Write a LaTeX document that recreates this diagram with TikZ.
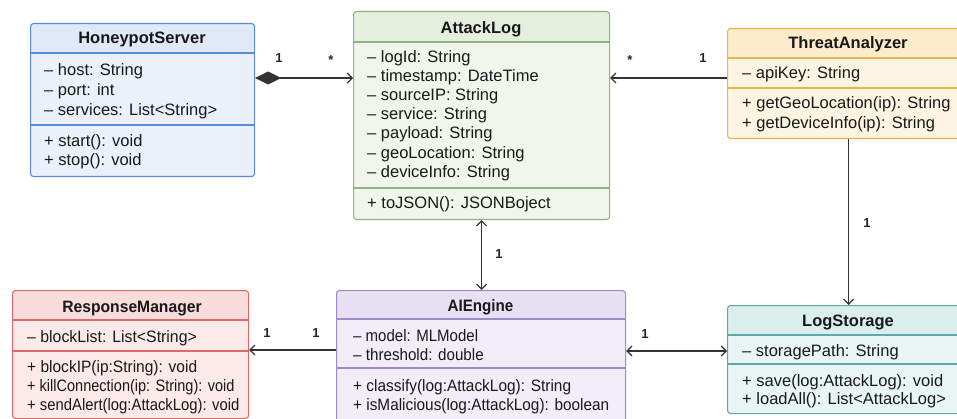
\documentclass[tikz,border=0pt]{standalone}
\usepackage{fontspec}
\usepackage{graphicx}
\setmainfont{Liberation Sans}
\usetikzlibrary{arrows.meta}
\newcommand{\sqz}[2]{\scalebox{#1}[1]{#2}}
\definecolor{hsB}{HTML}{5B8AD6}\definecolor{hsF}{HTML}{EAF1FB}\definecolor{hsT}{HTML}{DFE9F8}
\definecolor{alB}{HTML}{8FB57F}\definecolor{alF}{HTML}{F0F6EC}\definecolor{alT}{HTML}{E5EFDD}
\definecolor{taB}{HTML}{E9B449}\definecolor{taF}{HTML}{FDF5E2}\definecolor{taT}{HTML}{FBEDCC}
\definecolor{rmB}{HTML}{DC6A6A}\definecolor{rmF}{HTML}{FCE9E9}\definecolor{rmT}{HTML}{F9DCDC}
\definecolor{aiB}{HTML}{9D8BC8}\definecolor{aiF}{HTML}{F2EEF8}\definecolor{aiT}{HTML}{E8E1F3}
\definecolor{lsB}{HTML}{5FA8A6}\definecolor{lsF}{HTML}{E9F5F4}\definecolor{lsT}{HTML}{DAEEEC}
\definecolor{lineC}{HTML}{333333}
\begin{document}
\begin{tikzpicture}[x=1pt,y=-1pt,
  box/.style n args={4}{draw=#1, fill=#2, line width=1.1pt, rounded corners=3pt, inner sep=0pt, anchor=north west,
     path picture={\fill[#3] (path picture bounding box.north west) rectangle ([yshift=-#4]path picture bounding box.north east);}},
  sep/.style={draw=#1, line width=1.1pt},
  txt/.style={anchor=base west, inner sep=0pt, font=\fontsize{16.5}{19}\selectfont, text=black!90},
  ttl/.style={anchor=base, inner sep=0pt, font=\fontsize{16.5}{19}\selectfont\bfseries, text=black!90},
  mult/.style={inner sep=0pt, font=\fontsize{13}{15}\selectfont\bfseries, text=black!85},
  conn/.style={draw=lineC, line width=1.1pt},
  tip/.tip={Straight Barb[length=5pt,width=10pt,line width=1.2pt]}
]
\useasboundingbox (0,0) rectangle (957,419);
\clip (0,0) rectangle (957,419);
\fill[white] (0,0) rectangle (957,419);

% HoneypotServer
\node[box={hsB}{hsF}{hsT}{30pt}, minimum width=224pt, minimum height=153pt] (hs) at (30,23) {};
\draw[sep=hsB] (hs.west |- 0,53) -- (hs.east |- 0,53);
\draw[sep=hsB] (hs.west |- 0,125) -- (hs.east |- 0,125);
\node[ttl] (hst) at (142,44) {HoneypotServer};
\node[txt] (hs1) at (44,76) {– host: String};
\node[txt] (hs2) at (44,96) {– port: int};
\node[txt] (hs3) at (44,116) {– services: List<String>};
\node[txt] (hs4) at (44,147) {+ start(): void};
\node[txt] (hs5) at (44,166) {+ stop(): void};

% AttackLog
\node[box={alB}{alF}{alT}{31pt}, minimum width=256pt, minimum height=208pt] (al) at (353,11) {};
\draw[sep=alB] (al.west |- 0,42) -- (al.east |- 0,42);
\draw[sep=alB] (al.west |- 0,188) -- (al.east |- 0,188);
\node[ttl] (alt) at (481,34) {AttackLog};
\node[txt] (al1) at (367,63) {– logId: String};
\node[txt] (al2) at (367,82) {– timestamp: DateTime};
\node[txt] (al3) at (367,101) {– sourceIP: String};
\node[txt] (al4) at (367,120) {– service: String};
\node[txt] (al5) at (367,139) {– payload: String};
\node[txt] (al6) at (367,159) {– geoLocation: String};
\node[txt] (al7) at (367,178) {– deviceInfo: String};
\node[txt] (al8) at (367,209) {+ toJSON(): JSONBoject};

% ThreatAnalyzer
\node[box={taB}{taF}{taT}{30pt}, minimum width=242pt, minimum height=110pt] (ta) at (727,28) {};
\draw[sep=taB] (ta.west |- 0,58) -- (ta.east |- 0,58);
\draw[sep=taB] (ta.west |- 0,88) -- (ta.east |- 0,88);
\node[ttl] (tat) at (848,49) {ThreatAnalyzer};
\node[txt] (ta1) at (742,79) {– apiKey: String};
\node[txt] (ta2) at (742,109) {+ getGeoLocation(ip): String};
\node[txt] (ta3) at (742,129) {+ getDeviceInfo(ip): String};

% ResponseManager
\node[box={rmB}{rmF}{rmT}{30pt}, minimum width=236pt, minimum height=128pt] (rm) at (12,290) {};
\draw[sep=rmB] (rm.west |- 0,320) -- (rm.east |- 0,320);
\draw[sep=rmB] (rm.west |- 0,351) -- (rm.east |- 0,351);
\node[ttl] (rmt) at (132,312) {\sqz{0.95}{ResponseManager}};
\node[txt] (rm1) at (27,342) {\sqz{0.96}{– blockList: List<String>}};
\node[txt] (rm2) at (27,372) {\sqz{0.94}{+ blockIP(ip:String): void}};
\node[txt] (rm3) at (27,391) {\sqz{0.88}{+ killConnection(ip: String): void}};
\node[txt] (rm4) at (27,410) {\sqz{0.9}{+ sendAlert(log:AttackLog): void}};

% AIEngine
\node[box={aiB}{aiF}{aiT}{29pt}, minimum width=289pt, minimum height=135pt] (ai) at (336,290) {};
\draw[sep=aiB] (ai.west |- 0,319) -- (ai.east |- 0,319);
\draw[sep=aiB] (ai.west |- 0,368) -- (ai.east |- 0,368);
\node[ttl] (ait) at (480.5,311) {\sqz{0.92}{AIEngine}};
\node[txt] (ai1) at (353,341) {\sqz{0.91}{– model: MLModel}};
\node[txt] (ai2) at (353,360) {\sqz{0.92}{– threshold: double}};
\node[txt] (ai3) at (353,391) {\sqz{0.935}{+ classify(log:AttackLog): String}};
\node[txt] (ai4) at (353,410) {\sqz{0.93}{+ isMalicious(log:AttackLog): boolean}};

% LogStorage
\node[box={lsB}{lsF}{lsT}{30pt}, minimum width=242pt, minimum height=108pt] (ls) at (727,305) {};
\draw[sep=lsB] (ls.west |- 0,335) -- (ls.east |- 0,335);
\draw[sep=lsB] (ls.west |- 0,364) -- (ls.east |- 0,364);
\node[ttl] (lst) at (848,326) {LogStorage};
\node[txt] (ls1) at (742,356) {– storagePath: String};
\node[txt] (ls2) at (742,386) {+ save(log:AttackLog): void};
\node[txt] (ls3) at (742,404) {+ loadAll(): List<AttackLog>};

% Connectors
\draw[conn, {Diamond[length=26pt,width=13pt]}-tip] ([yshift=-55pt]hs.north east) coordinate (c1) -- (c1 -| al.west);
\node[mult] (m1) at (279,58) {1};
\node[mult] (m2) at (331,60) {*};

\draw[conn, -tip] ([yshift=-50pt]ta.north west) coordinate (c2) -- (c2 -| al.east);
\node[mult] (m3) at (630,60) {*};
\node[mult] (m4) at (703,58) {1};

\draw[conn, -tip] (ta.south) -- (ls.north);
\node[mult] (m5) at (867,223) {1};

\draw[conn, tip-tip] (al.south) -- (al.south |- ai.north);
\node[mult] (m6) at (499,254) {1};

\draw[conn, -tip] ([yshift=-60pt]ai.north west) coordinate (c3) -- (c3 -| rm.east);
\node[mult] (m7) at (267,333) {1};
\node[mult] (m8) at (316,333) {1};

\draw[conn, tip-tip] ([yshift=-61pt]ai.north east) coordinate (c4) -- (c4 -| ls.west);
\node[mult] (m9) at (645,334) {1};
\end{tikzpicture}
\end{document}
